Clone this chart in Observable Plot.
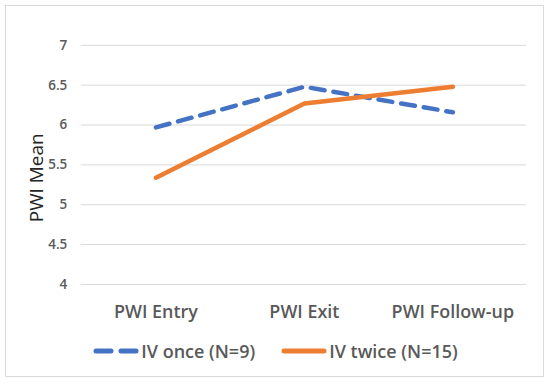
<!DOCTYPE html>
<html><head><meta charset="utf-8">
<script src="https://cdn.jsdelivr.net/npm/d3@7"></script>
<script src="https://cdn.jsdelivr.net/npm/@observablehq/plot@0.6"></script>
<style>
body{margin:0;background:#fff;font-family:"Open Sans",sans-serif;}
#frame{position:absolute;left:5px;top:5px;width:539px;height:372px;border:1px solid #d9d9d9;box-sizing:border-box;background:#fff;}
#chart{position:absolute;left:0;top:0;}
#legend{position:absolute;left:0;width:539px;top:333px;display:flex;justify-content:center;align-items:center;font-size:18px;line-height:24px;font-weight:600;color:#595959;}
.item{display:flex;align-items:center;margin:0 13px;}
.item svg{margin-right:2px;}
</style></head>
<body>
<div id="frame"><div id="chart"></div><div id="legend"></div></div>
<script>
const categories = ["PWI Entry", "PWI Exit", "PWI Follow-up"];
const seriesNames = ["IV once (N=9)", "IV twice (N=15)"];
const ivOnce = [5.97, 6.48, 6.16];
const ivTwice = [5.34, 6.27, 6.48];
const yTicks = [4, 4.5, 5, 5.5, 6, 6.5, 7];
const colors = ["#4472C4", "#ED7D31"];
const dashes = ["14,9", null];

const rows = [
  ...categories.map((c, i) => ({cat: c, v: ivOnce[i], s: seriesNames[0]})),
  ...categories.map((c, i) => ({cat: c, v: ivTwice[i], s: seriesNames[1]}))
];

const chart = Plot.plot({
  width: 539, height: 330,
  marginLeft: 75, marginRight: 17, marginTop: 39, marginBottom: 51,
  style: {fontFamily: "'Open Sans', sans-serif", color: "#595959", background: "transparent"},
  x: {domain: categories, type: "point", padding: 0.5, label: null},
  y: {domain: [4, 7], ticks: yTicks, label: null},
  marks: [
    Plot.gridY(yTicks, {stroke: "#d9d9d9", strokeOpacity: 1, strokeWidth: 1}),
    Plot.axisY(yTicks, {tickSize: 0, tickPadding: 14, fontSize: 13.5, fontWeight: 600, tickFormat: d => String(d), label: null}),
    Plot.axisX({tickSize: 0, tickPadding: 21, fontSize: 18, fontWeight: 600, label: null}),
    Plot.text(["PWI Mean"], {frameAnchor: "left", textAnchor: "middle", rotate: -90, dx: -44, dy: 13, fontSize: 19, fill: "#262626"}),
    Plot.lineY(rows.filter(d => d.s === seriesNames[0]), {x: "cat", y: "v", stroke: colors[0], strokeWidth: 4.5, strokeDasharray: dashes[0], strokeLinecap: "round", strokeLinejoin: "round"}),
    Plot.lineY(rows.filter(d => d.s === seriesNames[1]), {x: "cat", y: "v", stroke: colors[1], strokeWidth: 4.5, strokeLinecap: "round", strokeLinejoin: "round"})
  ]
});
document.getElementById("chart").appendChild(chart);

const legend = document.getElementById("legend");
seriesNames.forEach((name, i) => {
  const item = document.createElement("div");
  item.className = "item";
  const dash = dashes[i] ? `stroke-dasharray="15,10"` : "";
  item.innerHTML = `<svg width="46" height="10"><line x1="3" y1="5" x2="43" y2="5" stroke="${colors[i]}" stroke-width="5" stroke-linecap="round" ${dash}/></svg><span>${name}</span>`;
  legend.appendChild(item);
});
</script>
</body></html>
